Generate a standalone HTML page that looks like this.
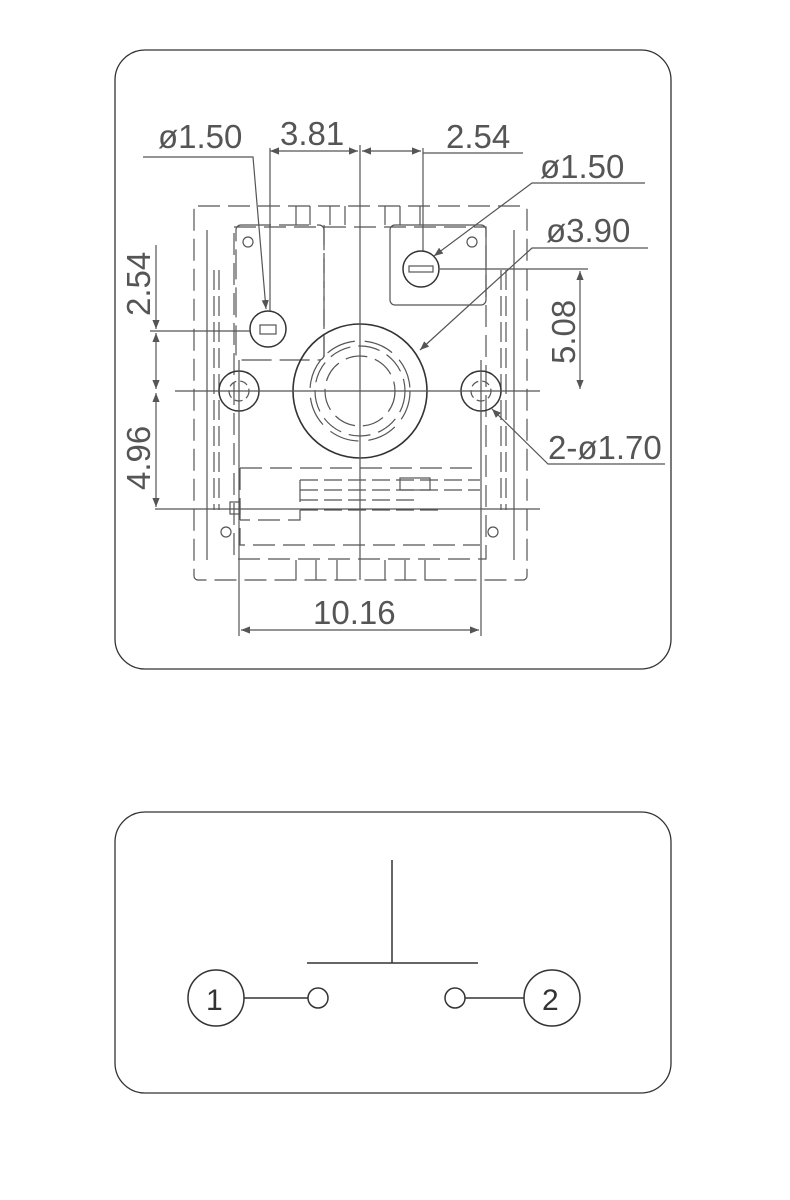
<!DOCTYPE html>
<html><head><meta charset="utf-8"><style>
html,body{margin:0;padding:0;background:#fff;}
svg{display:block;}
text{font-family:"Liberation Sans",sans-serif;fill:#555;font-size:33px;}
</style></head><body>
<svg width="790" height="1200" viewBox="0 0 790 1200" xmlns="http://www.w3.org/2000/svg">
<defs>
<marker id="a" viewBox="0 0 10 10" refX="10" refY="5" markerWidth="9" markerHeight="9" orient="auto-start-reverse" markerUnits="userSpaceOnUse"><path d="M0,1 L10,5 L0,9 z" fill="#555"/></marker>
</defs>
<rect x="115" y="50" width="556" height="619" rx="30" fill="none" stroke="#333" stroke-width="1.3"/>
<rect x="115" y="812" width="556" height="281" rx="30" fill="none" stroke="#333" stroke-width="1.3"/>

<g fill="none" stroke="#555" stroke-width="1.2">
<!-- body dashed -->
<rect x="194" y="206" width="333" height="374" rx="4" stroke-dasharray="22,8"/>
<rect x="234" y="227" width="252" height="332" stroke-dasharray="22,8"/>
<line x1="207" y1="230" x2="207" y2="560"/><line x1="514" y1="230" x2="514" y2="560"/>
<line x1="214" y1="270" x2="214" y2="510" stroke-dasharray="20,6"/>
<line x1="219" y1="270" x2="219" y2="510" stroke-dasharray="20,6"/>
<line x1="501" y1="270" x2="501" y2="510" stroke-dasharray="20,6"/>
<line x1="506" y1="270" x2="506" y2="510" stroke-dasharray="20,6"/>
<line x1="324" y1="225" x2="324" y2="360" stroke-dasharray="20,8"/>
<rect x="390" y="225" width="96" height="80" rx="5"/>
<rect x="236" y="225" width="88" height="135" rx="5" stroke-dasharray="30,8"/>
<path d="M240 468 H480 M240 468 V545 H480 M300 480 V520 H240" stroke-dasharray="22,8"/>
<path d="M300 480 H480 M300 490 H480 M300 500 H420 M300 510 H440" stroke-dasharray="18,6"/>
<rect x="400" y="478" width="30" height="12"/>
<rect x="230" y="502" width="10" height="12"/>
<path d="M296 206 V225 M310 206 V225 M330 206 V225 M345 206 V225 M385 206 V225 M400 206 V225 M420 206 V225 M296 560 V580 M316 560 V580 M337 560 V580 M385 560 V580 M405 560 V580 M425 560 V580"/>
<circle cx="248" cy="242" r="5"/><circle cx="472" cy="242" r="5"/>
<circle cx="226" cy="532" r="5"/><circle cx="493" cy="532" r="5"/>
<!-- circles -->
<circle cx="360" cy="391" r="67" stroke="#333" stroke-width="1.6"/>
<circle cx="360" cy="391" r="45" stroke-dasharray="22,8"/>
<circle cx="360" cy="391" r="35" stroke-dasharray="22,8"/>
<circle cx="360" cy="391" r="50" stroke-dasharray="30,10"/>
<circle cx="239" cy="391" r="20" stroke="#333" stroke-width="1.5"/>
<circle cx="239" cy="391" r="10" stroke-dasharray="8,4"/>
<circle cx="481" cy="391" r="20" stroke="#333" stroke-width="1.5"/>
<circle cx="481" cy="391" r="10" stroke-dasharray="8,4"/>
<circle cx="268" cy="329" r="18" stroke="#333" stroke-width="1.5"/>
<rect x="260" y="325" width="16" height="9"/>
<circle cx="421" cy="269" r="18" stroke="#333" stroke-width="1.5"/>
<rect x="409" y="266" width="24" height="6"/>
<!-- center lines -->
<line x1="360" y1="145" x2="360" y2="580"/>
<line x1="175" y1="391" x2="540" y2="391"/>
<line x1="155" y1="509" x2="540" y2="509"/>
<line x1="150" y1="331" x2="250" y2="331"/>
<line x1="440" y1="269" x2="588" y2="269"/>
<line x1="239" y1="360" x2="239" y2="636"/>
<line x1="481" y1="360" x2="481" y2="636"/>
<line x1="270" y1="148" x2="270" y2="311"/>
<line x1="423" y1="148" x2="423" y2="251"/>
<!-- dims -->
<line x1="270" y1="151" x2="358" y2="151" marker-start="url(#a)" marker-end="url(#a)"/>
<line x1="362" y1="151" x2="421" y2="151" marker-start="url(#a)" marker-end="url(#a)"/>
<line x1="423" y1="153" x2="523" y2="153"/>
<line x1="156" y1="245" x2="156" y2="329" marker-end="url(#a)"/>
<line x1="156" y1="333" x2="156" y2="389" marker-start="url(#a)" marker-end="url(#a)"/>
<line x1="156" y1="393" x2="156" y2="507" marker-start="url(#a)" marker-end="url(#a)"/>
<line x1="580" y1="271" x2="580" y2="389" marker-start="url(#a)" marker-end="url(#a)"/>
<line x1="241" y1="630" x2="479" y2="630" marker-start="url(#a)" marker-end="url(#a)"/>
<!-- leaders -->
<path d="M143 157 H253 L266 309" marker-end="url(#a)"/>
<path d="M645 183 H532 L434 256" marker-end="url(#a)"/>
<path d="M648 248 H532 L420 350" marker-end="url(#a)"/>
<path d="M665 464 H548 L492 409" marker-end="url(#a)"/>
</g>
<text x="158" y="148">ø1.50</text>
<text x="280" y="145">3.81</text>
<text x="446" y="148">2.54</text>
<text x="540" y="178">ø1.50</text>
<text x="546" y="242">ø3.90</text>
<text x="548" y="459">2-ø1.70</text>
<text x="313" y="624">10.16</text>
<text transform="translate(150,316) rotate(-90)">2.54</text>
<text transform="translate(150,490) rotate(-90)">4.96</text>
<text transform="translate(575,364) rotate(-90)">5.08</text>

<g fill="none" stroke="#333" stroke-width="1.5">
<line x1="392" y1="860" x2="392" y2="963"/>
<line x1="307" y1="963" x2="478" y2="963"/>
<circle cx="216" cy="998" r="28"/>
<circle cx="552" cy="998" r="28"/>
<circle cx="318" cy="998" r="10"/>
<circle cx="455" cy="998" r="10"/>
<line x1="244" y1="998" x2="308" y2="998"/>
<line x1="465" y1="998" x2="524" y2="998"/>
</g>
<text x="206" y="1010" style="font-size:30px;fill:#333">1</text>
<text x="542" y="1010" style="font-size:30px;fill:#333">2</text>
</svg>
</body></html>
